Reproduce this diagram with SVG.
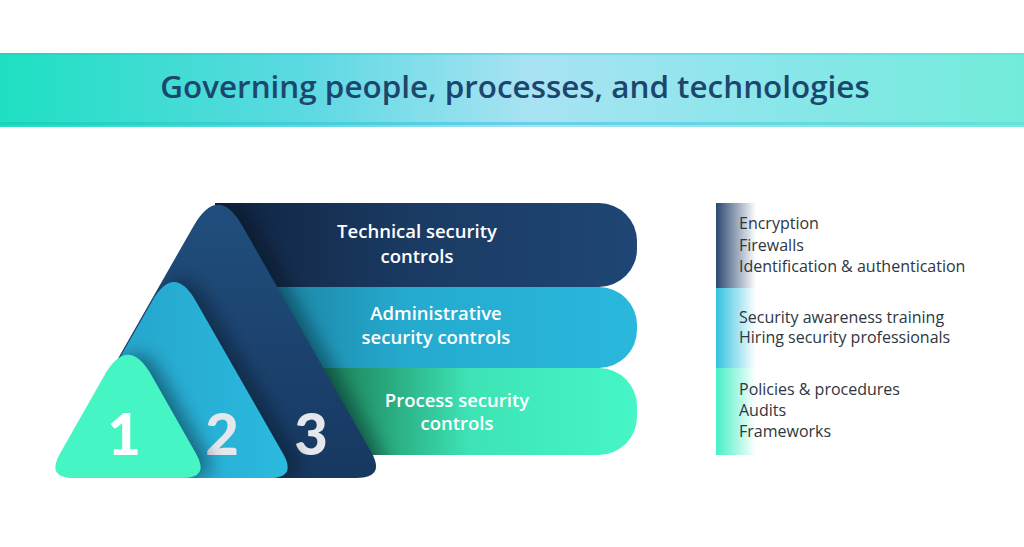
<svg xmlns="http://www.w3.org/2000/svg" width="1024" height="547" viewBox="0 0 1024 547">
  <defs>
    <linearGradient id="gTitle" x1="0" y1="0" x2="1024" y2="0" gradientUnits="userSpaceOnUse">
      <stop offset="0" stop-color="#1ee0c2"/>
      <stop offset="0.3" stop-color="#5dd9e2"/>
      <stop offset="0.52" stop-color="#a9e3f3"/>
      <stop offset="0.75" stop-color="#8ae6ea"/>
      <stop offset="1" stop-color="#72ecda"/>
    </linearGradient>
    <linearGradient id="gTitleLine" x1="0" y1="0" x2="1024" y2="0" gradientUnits="userSpaceOnUse">
      <stop offset="0" stop-color="#19cdb8"/>
      <stop offset="0.5" stop-color="#4cc6ea"/>
      <stop offset="1" stop-color="#5fdcd8"/>
    </linearGradient>
    <linearGradient id="gTech" x1="215" y1="0" x2="637" y2="0" gradientUnits="userSpaceOnUse">
      <stop offset="0" stop-color="#10233f"/>
      <stop offset="0.45" stop-color="#1a3a62"/>
      <stop offset="1" stop-color="#1f4674"/>
    </linearGradient>
    <linearGradient id="gAdmin" x1="250" y1="0" x2="637" y2="0" gradientUnits="userSpaceOnUse">
      <stop offset="0" stop-color="#1a7d9a"/>
      <stop offset="0.4" stop-color="#25aacf"/>
      <stop offset="1" stop-color="#29b8dc"/>
    </linearGradient>
    <linearGradient id="gProc" x1="300" y1="0" x2="637" y2="0" gradientUnits="userSpaceOnUse">
      <stop offset="0" stop-color="#166e52"/>
      <stop offset="0.2" stop-color="#249a70"/>
      <stop offset="0.5" stop-color="#3de3b5"/>
      <stop offset="1" stop-color="#46f6c6"/>
    </linearGradient>
    <linearGradient id="gNavy" x1="0" y1="183" x2="0" y2="478" gradientUnits="userSpaceOnUse">
      <stop offset="0" stop-color="#21507f"/>
      <stop offset="1" stop-color="#173860"/>
    </linearGradient>
    <linearGradient id="gCyan" x1="150" y1="0" x2="297" y2="0" gradientUnits="userSpaceOnUse">
      <stop offset="0" stop-color="#27a9cf"/>
      <stop offset="1" stop-color="#2bbbe0"/>
    </linearGradient>
    <linearGradient id="sNavy" x1="0" y1="0" x2="1" y2="0">
      <stop offset="0" stop-color="#2b4871"/>
      <stop offset="1" stop-color="#2b4871" stop-opacity="0"/>
    </linearGradient>
    <linearGradient id="sCyan" x1="0" y1="0" x2="1" y2="0">
      <stop offset="0" stop-color="#33c2e0"/>
      <stop offset="1" stop-color="#33c2e0" stop-opacity="0"/>
    </linearGradient>
    <linearGradient id="sGreen" x1="0" y1="0" x2="1" y2="0">
      <stop offset="0" stop-color="#45efc6"/>
      <stop offset="1" stop-color="#45efc6" stop-opacity="0"/>
    </linearGradient>
    <filter id="blur" x="-30%" y="-30%" width="160%" height="160%">
      <feGaussianBlur stdDeviation="9"/>
    </filter>
    <path id="pBarT" d="M215,203 H599 A38,38 0 0 1 637,241 V249 A38,38 0 0 1 599,287 H215 Z"/>
    <path id="pBarA" d="M240,287 H599 A38,38 0 0 1 637,325 V330 A38,38 0 0 1 599,368 H240 Z"/>
    <path id="pBarP" d="M280,368 H599 A38,38 0 0 1 637,406 V417 A38,38 0 0 1 599,455 H280 Z"/>
    <path id="pTri3" d="M242.7,226.4 L371.2,451.9 Q386,478 356,478 L80,478 Q50,478 64.8,451.9 L193.3,226.4 Q218,183 242.7,226.4 Z"/>
    <path id="pTri2" d="M195.9,301.2 L283.1,453.7 Q297,478 269,478 L79,478 Q51,478 64.9,453.7 L152.1,301.2 Q174,263 195.9,301.2 Z"/>
    <path id="pTri1" d="M151.8,375.7 L196.1,453.7 Q210,478 182,478 L74,478 Q46,478 59.9,453.7 L104.2,375.7 Q128,334 151.8,375.7 Z"/>
    <clipPath id="cBars">
      <use href="#pBarT"/><use href="#pBarA"/><use href="#pBarP"/>
    </clipPath>
    <clipPath id="cTri3"><use href="#pTri3"/></clipPath>
    <clipPath id="cTri2"><use href="#pTri2"/></clipPath>
    <style>
      .title { font-family: "Open Sans", Lato, sans-serif; font-weight: 600; font-size: 31.4px; fill: #1c466d; }
      .lbl { font-family: "Open Sans", Lato, sans-serif; font-weight: 600; font-size: 18.5px; fill: #ffffff; text-anchor: middle; }
      .num { font-family: Lato, "Open Sans", sans-serif; font-weight: 900; font-size: 58px; text-anchor: middle; }
      .item { font-family: "Open Sans", Lato, sans-serif; font-weight: 400; font-size: 16px; fill: #2e3640; }
      .shd { fill: #000814; opacity: 0.45; }
    </style>
  </defs>

  <rect width="1024" height="547" fill="#ffffff"/>

  <g id="title">
    <rect x="0" y="53" width="1024" height="74" fill="url(#gTitle)"/>
    <rect x="0" y="53" width="1024" height="2" fill="url(#gTitleLine)" opacity="0.5"/>
    <rect x="0" y="122" width="1024" height="3" fill="url(#gTitleLine)" opacity="0.7"/>
    <text class="title" x="515" y="98" text-anchor="middle">Governing people, processes, and technologies</text>
  </g>

  <g id="bar-technical">
    <use href="#pBarT" fill="url(#gTech)"/>
    <text class="lbl" x="417" y="238">Technical security</text>
    <text class="lbl" x="417" y="263">controls</text>
  </g>
  <g id="bar-administrative">
    <use href="#pBarA" fill="url(#gAdmin)"/>
    <text class="lbl" x="436" y="320">Administrative</text>
    <text class="lbl" x="436" y="344">security controls</text>
  </g>
  <g id="bar-process">
    <use href="#pBarP" fill="url(#gProc)"/>
    <text class="lbl" x="457" y="407">Process security</text>
    <text class="lbl" x="457" y="430">controls</text>
  </g>

  <g id="triangle-3">
    <g clip-path="url(#cBars)">
      <use href="#pTri3" class="shd" filter="url(#blur)" transform="translate(9,0)"/>
    </g>
    <use href="#pTri3" fill="url(#gNavy)"/>
    <text class="num" x="311" y="455" fill="#e4e7eb">3</text>
  </g>
  <g id="triangle-2">
    <g clip-path="url(#cTri3)">
      <use href="#pTri2" class="shd" filter="url(#blur)" transform="translate(9,0)"/>
    </g>
    <use href="#pTri2" fill="url(#gCyan)"/>
    <text class="num" x="222" y="455" fill="#e4e7eb">2</text>
  </g>
  <g id="triangle-1">
    <g clip-path="url(#cTri2)">
      <use href="#pTri1" class="shd" filter="url(#blur)" transform="translate(9,0)"/>
    </g>
    <use href="#pTri1" fill="#45f5c3"/>
    <text class="num" x="124" y="455" fill="#ffffff">1</text>
  </g>

  <g id="list-technical">
    <rect x="716" y="203" width="40" height="85" fill="url(#sNavy)"/>
    <text class="item" x="739" y="229">Encryption</text>
    <text class="item" x="739" y="251">Firewalls</text>
    <text class="item" x="739" y="272">Identification &amp; authentication</text>
  </g>
  <g id="list-administrative">
    <rect x="716" y="288" width="40" height="80" fill="url(#sCyan)"/>
    <text class="item" x="739" y="323">Security awareness training</text>
    <text class="item" x="739" y="343">Hiring security professionals</text>
  </g>
  <g id="list-process">
    <rect x="716" y="368" width="40" height="87" fill="url(#sGreen)"/>
    <text class="item" x="739" y="395">Policies &amp; procedures</text>
    <text class="item" x="739" y="416">Audits</text>
    <text class="item" x="739" y="437">Frameworks</text>
  </g>

  <g id="connectors"></g>
</svg>
